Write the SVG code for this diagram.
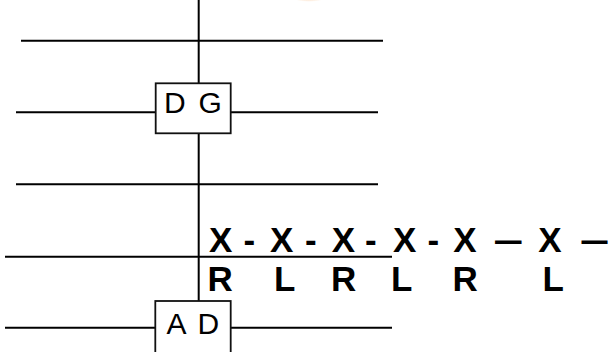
<svg xmlns="http://www.w3.org/2000/svg" width="611" height="352" viewBox="0 0 611 352">
<style>
.ln{stroke:#000;stroke-width:2;fill:none}
.box{fill:#fff;stroke:#111;stroke-width:1.8}
.lbl{font-family:"Liberation Sans",Arial,sans-serif;font-size:30px;fill:#000}
.big{font-family:"Liberation Sans",Arial,sans-serif;font-size:35px;font-weight:bold;fill:#000}
</style>
<defs>
<radialGradient id="glow" cx="0.5" cy="0.5" r="0.5">
<stop offset="0" stop-color="#f5a868" stop-opacity="1"/>
<stop offset="0.8" stop-color="#f8c08c" stop-opacity="0.7"/>
<stop offset="1" stop-color="#fde2c8" stop-opacity="0"/>
</radialGradient>
</defs>
<rect width="611" height="352" fill="#fff"/>
<ellipse cx="309" cy="-13" rx="29" ry="15" fill="url(#glow)"/>
<g id="connectors">
<line class="ln" x1="198.7" y1="0" x2="198.7" y2="301"/>
<line class="ln" x1="21" y1="40.7" x2="383" y2="40.7"/>
<line class="ln" x1="16" y1="112.3" x2="155" y2="112.3"/>
<line class="ln" x1="231" y1="112.3" x2="378" y2="112.3"/>
<line class="ln" x1="16" y1="184.3" x2="378" y2="184.3"/>
<line class="ln" x1="5" y1="256.7" x2="392" y2="256.7"/>
<line class="ln" x1="5" y1="327.8" x2="155" y2="327.8"/>
<line class="ln" x1="231" y1="327.8" x2="392" y2="327.8"/>
</g>
<g id="node-DG">
<rect class="box" x="155.7" y="83.3" width="75" height="50"/>
<text class="lbl" y="113.3"><tspan x="164">D </tspan><tspan x="198.5">G</tspan></text>
</g>
<g id="node-AD">
<rect class="box" x="155.3" y="301" width="75.4" height="60"/>
<text class="lbl" y="334.3"><tspan x="166.5">A </tspan><tspan x="197.6">D</tspan></text>
</g>
<g id="sequence">
<text class="big" y="251.7"><tspan x="209">X </tspan><tspan x="243.5">- </tspan><tspan x="270">X </tspan><tspan x="305">- </tspan><tspan x="331.7">X </tspan><tspan x="365">- </tspan><tspan x="393">X </tspan><tspan x="427.5">- </tspan><tspan x="453.3">X </tspan><tspan x="495" textLength="26.5" lengthAdjust="spacingAndGlyphs">—</tspan><tspan x="538.3">X </tspan><tspan x="581.5" textLength="26" lengthAdjust="spacingAndGlyphs">—</tspan></text>
<text class="big" y="291"><tspan x="207.5">R </tspan><tspan x="274">L </tspan><tspan x="331">R </tspan><tspan x="391">L </tspan><tspan x="452.5">R </tspan><tspan x="542.5">L</tspan></text>
</g>
</svg>
